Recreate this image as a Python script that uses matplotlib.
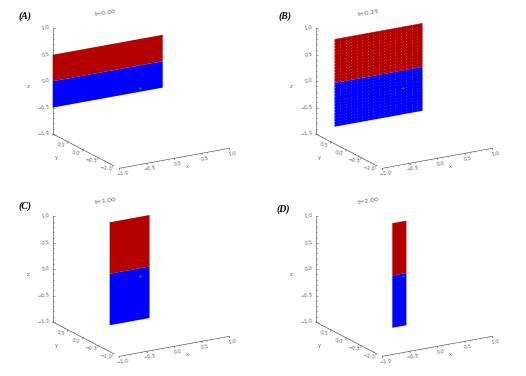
import matplotlib
matplotlib.use('Agg')
import matplotlib.pyplot as plt
import numpy as np

# sheet extents per panel
panel_names = ['(A)', '(B)', '(C)', '(D)']
panel_times = ['t=0.00', 't=0.25', 't=1.00', 't=2.00']
sheet_x_lo = [-1.0, -0.79, -0.35, -0.13]
sheet_x_hi = [1.0, 0.81, 0.375, 0.125]
sheet_y = [1.0, 0.76, 0.30, 0.05]
sheet_z_hi = [0.5, 0.83, 0.975, 0.99]
name_pos = [(19, 16), (16, 16), (19, 18.5), (14, 21)]

# tick labels for the three axes
z_ticks = [-1.0, -0.5, 0.0, 0.5, 1.0]
x_ticks = [-1.0, -0.5, 0.0, 0.5, 1.0]
y_ticks = [0.5, 0.0, -0.5, -1.0]
marker_xyz = (0.0, -0.07, 0.0)

RED = '#b40000'
BLUE = '#0000ff'
GREY = '#666666'


# oblique view, pixels inside one 263x188 panel
def proj(x, y, z):
    x, y, z = np.asarray(x, float), np.asarray(y, float), np.asarray(z, float)
    px = 52.7 + 55.0 * (x + 1) + 30.3 * (1 - y)
    py = 134.0 - 52.8 * (z + 1) - 10.0 * (x + 1) + 15.8 * (1 - y)
    return px, py


def quad(ax, x0, x1, y, z0, z1, color):
    px, py = proj([x0, x1, x1, x0], [y] * 4, [z0, z0, z1, z1])
    ax.fill(px, py, color=color, lw=0, zorder=2)


def label(v):
    return ('%.1f' % v).replace('-', '\u2212')


def draw_axes(ax):
    # z axis
    px, py = proj([-1, -1], [1, 1], [-1, 1])
    ax.plot(px, py, color=GREY, lw=0.5)
    for z in np.arange(-1, 1.01, 0.1):
        px, py = proj(-1, 1, z)
        major = abs(z * 2 - round(z * 2)) < 1e-6
        ax.plot([px, px + (2.2 if major else 1.2)], [py, py], color=GREY, lw=0.4)
    for z in z_ticks:
        px, py = proj(-1, 1, z)
        ax.text(px - 2.5, py, label(z), fontsize=3.8, color=GREY, ha='right', va='center', rotation=8)
    px, py = proj(-1, 1, 0)
    ax.text(px - 25, py + 5, 'z', fontsize=3.8, color=GREY, ha='center', va='center')

    # y axis, running forward from the back corner
    px, py = proj([-1, -1], [1, -1], [-1, -1])
    ax.plot(px, py, color=GREY, lw=0.5)
    for y in np.arange(-1, 1.01, 0.1):
        px, py = proj(-1, y, -1)
        ax.plot([px, px + 1.0], [py, py - 0.2], color=GREY, lw=0.3)
    for y in y_ticks:
        px, py = proj(-1, y, -1)
        ax.plot([px, px - 0.6], [py, py + 1.5], color=GREY, lw=0.4)
        ax.text(px - 7, py + 3, label(y), fontsize=3.8, color=GREY, ha='center', va='center', rotation=-8)
    px, py = proj(-1, 0.0, -1)
    ax.text(px - 27, py + 8, 'y', fontsize=3.8, color=GREY, ha='center', va='center')

    # x axis, drawn slightly off the y axis end
    px, py = proj([-1, 1], [-1, -1], [-1, -1])
    ax.plot(px + 6, py + 2.7, color=GREY, lw=0.5)
    for x in np.arange(-1, 1.01, 0.1):
        qx, qy = proj(x, -1, -1)
        ax.plot([qx + 6, qx + 6.2], [qy + 2.7, qy + 3.7], color=GREY, lw=0.3)
    for x in x_ticks:
        qx, qy = proj(x, -1, -1)
        ax.plot([qx + 6, qx + 6.5], [qy + 2.7, qy + 4.2], color=GREY, lw=0.4)
        ax.text(qx + 9, qy + 8, label(x), fontsize=3.8, color=GREY, ha='center', va='center', rotation=8)
    px, py = proj(0.1, -1, -1)
    ax.text(px + 14, py + 12, 'x', fontsize=3.8, color=GREY, ha='center', va='center')


fig = plt.figure(figsize=(5.26, 3.76), dpi=100)

for i in range(4):
    col = i % 2
    row = i // 2
    ax = fig.add_axes([col * 263 / 526, 1 - (row + 1) * 188 / 376, 263 / 526, 188 / 376])
    ax.set_xlim(0, 263)
    ax.set_ylim(188, 0)
    ax.axis('off')

    draw_axes(ax)
    quad(ax, sheet_x_lo[i], sheet_x_hi[i], sheet_y[i], 0, sheet_z_hi[i], RED)
    quad(ax, sheet_x_lo[i], sheet_x_hi[i], sheet_y[i], -sheet_z_hi[i], 0, BLUE)

    # faint speckle of grid nodes in panel B
    if i == 1:
        gx, gz = np.meshgrid(np.linspace(sheet_x_lo[i], sheet_x_hi[i], 17), np.linspace(-sheet_z_hi[i], sheet_z_hi[i], 30))
        px, py = proj(gx, sheet_y[i], gz)
        ax.scatter(px.ravel(), py.ravel(), s=0.5, color='white', alpha=0.16, lw=0, zorder=3)

    px, py = proj(*marker_xyz)
    ax.scatter([px], [py], s=2.2, color='#00b000', lw=0, zorder=4)

    ax.text(105, 12.5, panel_times[i], fontsize=4.6, color=GREY, ha='center', va='center', rotation=8)
    ax.text(name_pos[i][0], name_pos[i][1], panel_names[i], fontsize=7, family='Liberation Serif',
            style='italic', weight='bold', color='black', ha='left', va='center')

fig.savefig('out.png', dpi=100)
